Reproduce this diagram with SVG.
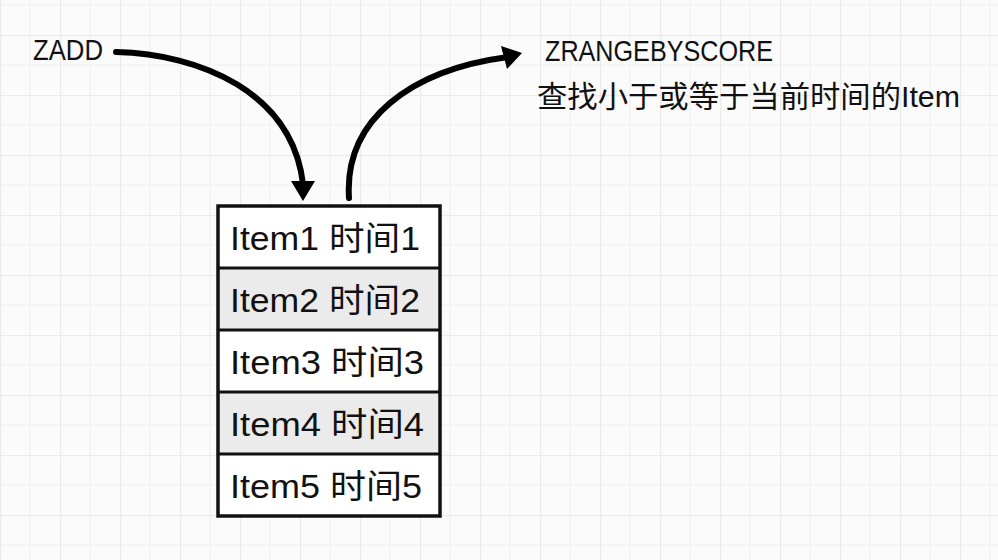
<svg xmlns="http://www.w3.org/2000/svg" width="998" height="560" viewBox="0 0 998 560">
<style>
.major{stroke:#ebebeb;stroke-width:2.5}
.minor{stroke:#f3f3f3;stroke-width:1.5}
.lbl{font-family:"Liberation Sans","Noto Sans CJK SC",sans-serif;fill:#111}
.item{font-family:"Liberation Sans","Noto Sans CJK SC",sans-serif;font-size:33px;fill:#111}
.row{stroke:#111;stroke-width:3}
.conn{fill:none;stroke:#000;stroke-width:6;stroke-linecap:round}
</style>
<defs>
<pattern id="grid" x="0" y="35" width="60" height="60" patternUnits="userSpaceOnUse">
<rect width="60" height="60" fill="#fbfbfb"/>
<line class="minor" x1="30" y1="0" x2="30" y2="60"/>
<line class="minor" x1="0" y1="30" x2="60" y2="30"/>
<line class="major" x1="0" y1="0" x2="0" y2="60"/>
<line class="major" x1="0" y1="0" x2="60" y2="0"/>
</pattern>
</defs>
<rect width="998" height="560" fill="url(#grid)"/>
<g id="label-zadd"><text class="lbl" x="33" y="60" font-size="29" textLength="70" lengthAdjust="spacingAndGlyphs">ZADD</text></g>
<g id="label-zrange">
<text class="lbl" x="545" y="61" font-size="29" textLength="228" lengthAdjust="spacingAndGlyphs">ZRANGEBYSCORE</text>
<text class="lbl" x="537" y="107" font-size="30" textLength="423" lengthAdjust="spacingAndGlyphs">查找小于或等于当前时间的Item</text>
</g>
<g id="connectors">
<path class="conn" d="M116,52 C200,54 292,92 303,184"/>
<polygon points="291,181 315,181 303,201" fill="#000"/>
<path class="conn" d="M349,198 C344,120 410,70 508,57"/>
<polygon points="522,53 501,46 507,69" fill="#000"/>
</g>
<g id="list">
<rect x="218" y="206" width="222" height="62" fill="#fff"/>
<rect x="218" y="268" width="222" height="62" fill="#ebebeb"/>
<rect x="218" y="330" width="222" height="62" fill="#fff"/>
<rect x="218" y="392" width="222" height="62" fill="#ebebeb"/>
<rect x="218" y="454" width="222" height="62" fill="#fff"/>
<line class="row" x1="218" y1="268" x2="440" y2="268"/>
<line class="row" x1="218" y1="330" x2="440" y2="330"/>
<line class="row" x1="218" y1="392" x2="440" y2="392"/>
<line class="row" x1="218" y1="454" x2="440" y2="454"/>
<rect x="218" y="206" width="222" height="310" fill="none" stroke="#111" stroke-width="3.5"/>
</g>
<g id="item1"><text class="item" x="230" y="250" textLength="190" lengthAdjust="spacingAndGlyphs">Item1 时间1</text></g>
<g id="item2"><text class="item" x="230" y="312" textLength="190" lengthAdjust="spacingAndGlyphs">Item2 时间2</text></g>
<g id="item3"><text class="item" x="230" y="374" textLength="194" lengthAdjust="spacingAndGlyphs">Item3 时间3</text></g>
<g id="item4"><text class="item" x="230" y="436" textLength="194" lengthAdjust="spacingAndGlyphs">Item4 时间4</text></g>
<g id="item5"><text class="item" x="230" y="498" textLength="192" lengthAdjust="spacingAndGlyphs">Item5 时间5</text></g>
</svg>
